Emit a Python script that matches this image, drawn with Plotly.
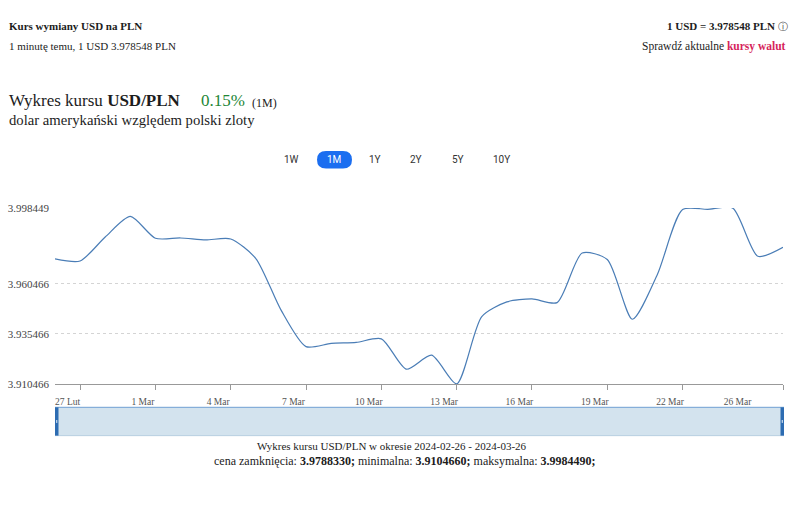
import pandas as pd
import plotly.graph_objects as go

# ---- data ----
dates = pd.date_range("2024-02-26", "2024-03-26", freq="D")
rates = [3.97307, 3.97199, 3.98400, 3.99429, 3.98336, 3.98350, 3.98253, 3.98301,
         3.97321, 3.94750, 3.92909, 3.93071, 3.93120, 3.93301, 3.91782, 3.92483,
         3.910466, 3.94414, 3.95150, 3.95297, 3.95115, 3.97600, 3.97272, 3.94282,
         3.96537, 3.99772, 3.99787, 3.998449, 3.97434, 3.978833]
y_ticks = [3.910466, 3.935466, 3.960466, 3.998449]
y_tick_text = ["3.910466", "3.935466", "3.960466", "3.998449"]
x_tick_dates = ["2024-02-27", "2024-03-01", "2024-03-04", "2024-03-07", "2024-03-10",
                "2024-03-13", "2024-03-16", "2024-03-19", "2024-03-22", "2024-03-26"]
x_tick_text = ["27 Lut", "1 Mar", "4 Mar", "7 Mar", "10 Mar", "13 Mar", "16 Mar",
               "19 Mar", "22 Mar", "26 Mar"]
range_buttons = ["1W", "1M", "1Y", "2Y", "5Y", "10Y"]

W, H = 797, 509
SERIF = "Liberation Serif, DejaVu Serif, serif"
SANS = "Roboto, Liberation Sans, sans-serif"
TXT = "#1c1c1c"


def px(x):
    return x / W


def py(y):
    return 1 - y / H


# label positions: half a day before the tick marks (last label is off-grid like the original)
label_pos = [pd.Timestamp(d) - pd.Timedelta(hours=12) for d in x_tick_dates[:-1]]
label_pos.append(pd.Timestamp("2024-03-24 04:30"))

fig = go.Figure()
fig.add_trace(go.Scatter(
    x=dates, y=rates, mode="lines",
    line=dict(color="#4a7db6", width=1.2, shape="spline", smoothing=0.7),
    hoverinfo="x+y", showlegend=False,
))

fig.update_layout(
    width=W, height=H,
    margin=dict(l=0, r=0, t=0, b=0),
    paper_bgcolor="white", plot_bgcolor="white",
    font=dict(family=SERIF, color=TXT),
    xaxis=dict(
        domain=[px(55), px(783)],
        range=[dates[0], dates[-1]],
        showgrid=False, zeroline=False,
        showline=True, linecolor="#999", linewidth=1,
        tickmode="array", tickvals=label_pos, ticktext=x_tick_text,
        ticks="", ticklabelstandoff=9,
        tickfont=dict(family=SERIF, size=9.5, color="#555"),
        minor=dict(tickmode="array", tickvals=[pd.Timestamp(d) for d in x_tick_dates[:-1]] + [dates[-1]],
                   ticks="outside", ticklen=5, tickcolor="#999", tickwidth=1, showgrid=False),
        fixedrange=True,
    ),
    yaxis=dict(
        domain=[py(387), py(207)],
        range=[y_ticks[0], y_ticks[-1]],
        tickmode="array", tickvals=y_ticks, ticktext=y_tick_text,
        showgrid=True, gridcolor="#d4d4d4", griddash="3px,3px", gridwidth=1,
        zeroline=False, showline=False, ticks="", ticklabelstandoff=5,
        tickfont=dict(family=SERIF, size=11, color="#444"),
        fixedrange=True,
    ),
)

ann = []


def text(x, y, t, size, anchor="left", color=TXT, family=SERIF):
    ann.append(dict(x=px(x), y=py(y), xref="paper", yref="paper", text=t, showarrow=False,
                    xanchor=anchor, yanchor="middle",
                    font=dict(family=family, size=size, color=color)))


text(7, 20, "<b>Kurs wymiany USD na PLN</b>", 11)
text(7, 41, "1 minutę temu, 1 USD 3.978548 PLN", 11)
text(790, 20, "<b>1 USD = 3.978548 PLN</b> <span style='font-size:10px;color:#444'>ⓘ</span>", 11, anchor="right")
text(788, 41, "Sprawdź aktualne <b><span style='color:#d6245b'>kursy walut</span></b>", 11.5, anchor="right")
text(7, 97, "Wykres kursu <b>USD/PLN</b>", 17)
text(199, 97, "0.15%", 17, color="#238636")
text(250, 99, "(1M)", 12)
text(7, 117, "dolar amerykański względem polski zloty", 14.7)
text(392, 451, "Wykres kursu USD/PLN w okresie 2024-02-26 - 2024-03-26", 11)
ann[-1]["xanchor"] = "center"
text(405, 466, "cena zamknięcia: <b>3.9788330;</b> minimalna: <b>3.9104660;</b> maksymalna: <b>3.9984490;</b>", 12)
ann[-1]["xanchor"] = "center"

btn_x = [291, 334, 375, 416, 458, 501]
for lbl, bx in zip(range_buttons, btn_x):
    text(bx, 157, lbl, 10, anchor="center", color="white" if lbl == "1M" else "#333", family=SANS)

shapes = []
# pill for active button
x0, x1, y0, y1, r = 317, 352, 148.5, 166.5, 9


def P(x, y):
    return f"{px(x):.6f},{py(y):.6f}"


path = (f"M{P(x0 + r, y0)} L{P(x1 - r, y0)} Q{P(x1, y0)} {P(x1, y0 + r)} "
        f"Q{P(x1, y1)} {P(x1 - r, y1)} L{P(x0 + r, y1)} Q{P(x0, y1)} {P(x0, y1 - r)} "
        f"Q{P(x0, y0)} {P(x0 + r, y0)} Z")
shapes.append(dict(type="path", xref="paper", yref="paper", path=path,
                   fillcolor="#1b6ef0", line=dict(width=0), layer="below"))

# navigator
shapes.append(dict(type="rect", xref="paper", yref="paper", x0=px(55), x1=px(784), y0=py(440), y1=py(411),
                   fillcolor="#d3e3ee", line=dict(width=0)))
shapes.append(dict(type="line", xref="paper", yref="paper", x0=px(55), x1=px(784), y0=py(411), y1=py(411),
                   line=dict(color="#6f9fd2", width=1)))
shapes.append(dict(type="line", xref="paper", yref="paper", x0=px(55), x1=px(784), y0=py(440), y1=py(440),
                   line=dict(color="#b9cfe0", width=1)))
for hx0, hx1 in [(55, 58.5), (780.5, 784)]:
    shapes.append(dict(type="rect", xref="paper", yref="paper", x0=px(hx0), x1=px(hx1), y0=py(440), y1=py(411),
                       fillcolor="#2d6cb2", line=dict(width=0)))
    cx = (hx0 + hx1) / 2
    shapes.append(dict(type="line", xref="paper", yref="paper", x0=px(cx), x1=px(cx), y0=py(427), y1=py(424),
                       line=dict(color="#e8f0f8", width=1)))

fig.update_layout(annotations=ann, shapes=shapes)
fig.write_html("out.html",
               config={"displayModeBar": False},
               post_script="document.body.style.margin='0';document.body.style.padding='0';"
                           "document.body.style.overflow='hidden';")
